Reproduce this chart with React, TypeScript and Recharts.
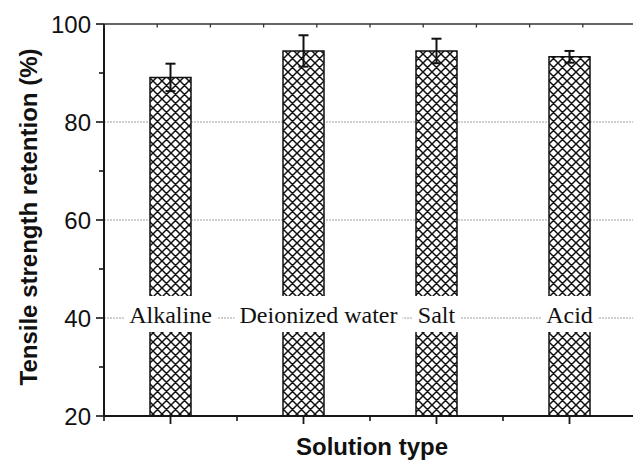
import React from 'react';
import { BarChart, Bar, XAxis, YAxis, CartesianGrid, ErrorBar, LabelList, ReferenceLine } from 'recharts';

// Tensile strength retention after immersion in each solution
const categories = ['Alkaline', 'Deionized water', 'Salt', 'Acid'];
const retention = [89.1, 94.5, 94.5, 93.3];
const retentionSd = [2.8, 3.2, 2.5, 1.2];

const yMajorTicks = [20, 40, 60, 80, 100];
const yMinorTicks = [30, 50, 70, 90];
const yGridValues = [40, 60, 80];
const TOP_DIVISIONS = 10; // small inward ticks along the top frame

const Y_MIN = 20;
const Y_MAX = 100;
const LABEL_AT = 40; // the category names sit on this value line

const data = categories.map((name, i) => ({ name, value: retention[i], sd: retentionSd[i] }));

const CHART_W = 636;
const CHART_H = 461;
const MARGIN_TOP = 24;
const X_AXIS_H = 45;
const Y_AXIS_W = 104;
const PLOT_W = CHART_W - Y_AXIS_W;
const PLOT_H = CHART_H - MARGIN_TOP - X_AXIS_H;
const BAND = PLOT_W / categories.length;
const TOP_STEP = PLOT_W / TOP_DIVISIONS;
const HATCH = 9;

const SANS = "'Liberation Sans', Arial, Helvetica, sans-serif";
const SERIF = "'Liberation Serif', 'Times New Roman', serif";
const INK = '#161616';

// Small horizontal nudges for names that would otherwise crowd a neighbour
const labelShift: Record<string, number> = { 'Deionized water': 15 };

let measureCtx: CanvasRenderingContext2D | null = null;
function textWidth(text: string, font: string): number {
  if (!measureCtx) {
    const c = document.createElement('canvas');
    measureCtx = c.getContext('2d');
  }
  if (!measureCtx) return text.length * 12;
  measureCtx.font = font;
  return measureCtx.measureText(text).width;
}

const YTick = (props: any) => {
  const { x, y, payload } = props;
  const axisX = x + 13; // tickSize 8 + tickMargin 5
  const major = yMajorTicks.includes(payload.value);
  return (
    <g>
      <line x1={axisX - (major ? 8 : 5)} x2={axisX} y1={y} y2={y} stroke={INK} strokeWidth={1.6} />
      {major && (
        <text x={x} y={y} dy="0.36em" textAnchor="end" fontSize={24} fontFamily={SANS} fill="#111">
          {payload.value}
        </text>
      )}
    </g>
  );
};

// Bottom ticks: long one at each category, short one at each band edge;
// also the small inward ticks of the top frame that fall inside this band.
const XTick = (props: any) => {
  const { x, y, index } = props;
  const axisY = y - 8; // tickSize 8, tickMargin 0
  const i = typeof index === 'number' ? index : 0;
  const bandLeft = x - BAND / 2;
  const plotLeft = bandLeft - i * BAND;
  const topY = axisY - PLOT_H;
  const topMarks: number[] = [];
  for (let k = 0; k <= TOP_DIVISIONS; k++) {
    const tx = plotLeft + k * TOP_STEP;
    const last = i === categories.length - 1;
    if (tx >= bandLeft - 0.01 && (tx < bandLeft + BAND - 0.01 || (last && tx <= bandLeft + BAND + 0.01))) {
      topMarks.push(tx);
    }
  }
  return (
    <g>
      <line x1={x} x2={x} y1={axisY} y2={axisY + 8} stroke={INK} strokeWidth={1.8} />
      <line x1={bandLeft} x2={bandLeft} y1={axisY} y2={axisY + 5} stroke={INK} strokeWidth={1.6} />
      {topMarks.map((tx) => (
        <line key={tx} x1={tx} x2={tx} y1={topY} y2={topY + 3.5} stroke="#333" strokeWidth={1.3} />
      ))}
    </g>
  );
};

const XTitle = (props: any) => {
  const vb = props.viewBox || { x: Y_AXIS_W, y: MARGIN_TOP + PLOT_H, width: PLOT_W, height: X_AXIS_H };
  return (
    <text
      x={vb.x + vb.width / 2 + 2}
      y={vb.y + 39}
      textAnchor="middle"
      fontSize={24}
      fontWeight="bold"
      fontFamily={SANS}
      fill="#111"
    >
      Solution type
    </text>
  );
};

const YTitle = (props: any) => {
  const vb = props.viewBox || { x: 0, y: MARGIN_TOP, width: Y_AXIS_W, height: PLOT_H };
  const cx = vb.x + 37;
  const cy = vb.y + vb.height / 2 - 3;
  return (
    <text
      transform={`translate(${cx},${cy}) rotate(-90)`}
      textAnchor="middle"
      fontSize={24}
      fontWeight="bold"
      fontFamily={SANS}
      fill="#111"
    >
      Tensile strength retention (%)
    </text>
  );
};

// Category name printed across its bar on the 40 % line, on a white plate
const SolutionTag = (props: any) => {
  const { x, y, width, height, value } = props;
  const idx = categories.indexOf(value);
  if (idx < 0) return null;
  const v = retention[idx];
  const base = y + height;
  const yAt = base - (height * (LABEL_AT - Y_MIN)) / (v - Y_MIN);
  const cx = x + width / 2 + (labelShift[value] ?? 0);
  const font = `24px ${SERIF}`;
  const tw = textWidth(value, font);
  return (
    <g>
      <rect x={cx - tw / 2 - 5} y={yAt - 22} width={tw + 10} height={36} fill="#ffffff" />
      <text x={cx} y={yAt + 5} textAnchor="middle" fontSize={24} fontFamily={SERIF} fill="#111">
        {value}
      </text>
    </g>
  );
};

export default function App() {
  const h = HATCH;
  return (
    <div
      style={{
        position: 'absolute',
        left: 0,
        top: 0,
        width: 633,
        height: 461,
        overflow: 'hidden',
        background: '#ffffff',
      }}
    >
      <svg width={0} height={0} style={{ position: 'absolute' }}>
        <defs>
          <pattern id="crosshatch" patternUnits="userSpaceOnUse" width={h} height={h}>
            <rect width={h} height={h} fill="#ffffff" />
            <path
              d={`M0,0 L${h},${h} M${h},0 L0,${h} M-1,${h - 1} L1,${h + 1} M${h - 1},-1 L${h + 1},1 M-1,1 L1,-1 M${h - 1},${h + 1} L${h + 1},${h - 1}`}
              stroke="#111"
              strokeWidth={1.5}
            />
          </pattern>
        </defs>
      </svg>
      <BarChart
        width={CHART_W}
        height={CHART_H}
        data={data}
        margin={{ top: MARGIN_TOP, right: 0, bottom: 0, left: 0 }}
        style={{ fontFamily: SANS }}
      >
        <CartesianGrid
          vertical={false}
          horizontalValues={yGridValues}
          stroke="#a0a0a0"
          strokeDasharray="2 1"
        />
        <XAxis
          dataKey="name"
          type="category"
          height={X_AXIS_H}
          interval={0}
          tickSize={8}
          tickMargin={0}
          tickLine={false}
          tick={<XTick />}
          axisLine={{ stroke: INK, strokeWidth: 2 }}
          label={<XTitle />}
        />
        <YAxis
          type="number"
          domain={[Y_MIN, Y_MAX]}
          ticks={[...yMajorTicks, ...yMinorTicks].sort((a, b) => a - b)}
          interval={0}
          width={Y_AXIS_W}
          tickSize={8}
          tickMargin={5}
          tickLine={false}
          tick={<YTick />}
          axisLine={{ stroke: INK, strokeWidth: 2 }}
          label={<YTitle />}
        />
        {/* top frame line */}
        <ReferenceLine y={Y_MAX} stroke="#333" strokeWidth={1.6} />
        <Bar
          dataKey="value"
          fill="url(#crosshatch)"
          stroke="#111"
          strokeWidth={1.5}
          barSize={41}
          isAnimationActive={false}
        >
          <ErrorBar dataKey="sd" direction="y" width={5} stroke="#111" strokeWidth={2} isAnimationActive={false} />
          <LabelList dataKey="name" content={<SolutionTag />} />
        </Bar>
      </BarChart>
    </div>
  );
}
